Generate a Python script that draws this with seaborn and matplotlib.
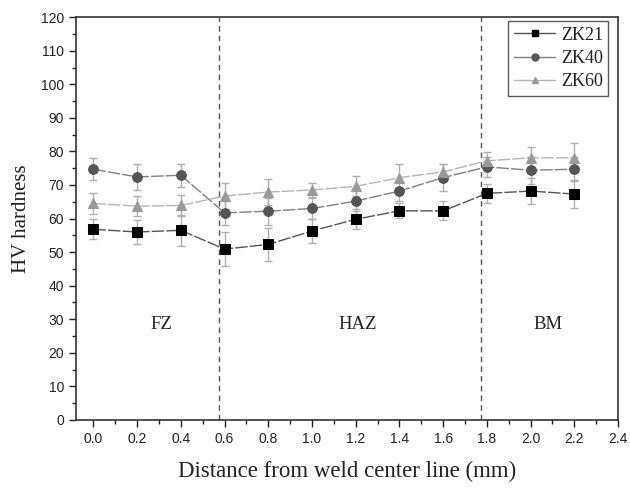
import matplotlib
matplotlib.use("Agg")
import matplotlib.pyplot as plt
import matplotlib.ticker as mticker
import pandas as pd
import seaborn as sns
from matplotlib.lines import Line2D

# distance from weld centre line (mm)
distance = [0.0, 0.2, 0.4, 0.6, 0.8, 1.0, 1.2, 1.4, 1.6, 1.8, 2.0, 2.2]

zk21 = [56.8, 56.0, 56.5, 50.9, 52.3, 56.3, 59.8, 62.3, 62.3, 67.5, 68.2, 67.3]
zk21_err = [3.0, 3.6, 4.6, 5.0, 4.8, 3.5, 3.0, 2.2, 2.8, 2.8, 4.0, 4.3]
zk40 = [74.7, 72.4, 72.9, 61.7, 62.2, 63.0, 65.2, 68.2, 72.2, 75.4, 74.4, 74.7]
zk40_err = [3.3, 4.0, 3.5, 3.5, 4.0, 3.0, 3.0, 3.0, 4.0, 3.0, 4.0, 3.5]
zk60 = [64.5, 63.7, 63.9, 66.7, 67.9, 68.5, 69.6, 72.2, 73.9, 77.2, 78.1, 78.1]
zk60_err = [3.0, 3.0, 3.0, 4.0, 4.0, 2.0, 3.0, 4.0, 2.5, 2.5, 3.3, 4.4]

alloys = ["ZK21", "ZK40", "ZK60"]
zone_names = ["FZ", "HAZ", "BM"]
zone_x = [0.31, 1.21, 2.08]
boundaries = [0.575, 1.775]

df = pd.concat([
    pd.DataFrame({"Distance": distance, "HV": zk21, "err": zk21_err, "Alloy": "ZK21"}),
    pd.DataFrame({"Distance": distance, "HV": zk40, "err": zk40_err, "Alloy": "ZK40"}),
    pd.DataFrame({"Distance": distance, "HV": zk60, "err": zk60_err, "Alloy": "ZK60"}),
])

marker_col = {"ZK21": "#000000", "ZK40": "#555555", "ZK60": "#9a9a9a"}
line_col = {"ZK21": "#555555", "ZK40": "#808080", "ZK60": "#b5b5b5"}
markers = {"ZK21": "s", "ZK40": "o", "ZK60": "^"}

sns.set_theme(style="ticks")
plt.rcParams["font.family"] = ["Liberation Sans", "DejaVu Sans"]
serif = ["Liberation Serif", "DejaVu Serif"]

fig = plt.figure(figsize=(6.3, 4.9), dpi=100)
ax = fig.add_axes([0.1206, 0.1429, 0.8604, 0.8221])

for alloy in alloys:
    sub = df[df["Alloy"] == alloy]
    sns.lineplot(data=sub, x="Distance", y="HV", color=line_col[alloy],
                 marker=markers[alloy], markersize=7, linewidth=1.0,
                 markerfacecolor=marker_col[alloy], markeredgecolor=marker_col[alloy],
                 dashes=(9, 1.5), ax=ax, zorder=3)
    ax.errorbar(sub["Distance"], sub["HV"], yerr=sub["err"], fmt="none",
                ecolor="#b0b0b0", elinewidth=1.0, capsize=3, capthick=1.0, zorder=2)

for b in boundaries:
    ax.axvline(b, color="#555555", linestyle=(0, (4, 3)), linewidth=1.0, zorder=1)

for name, zx in zip(zone_names, zone_x):
    ax.text(zx, 28.5, name, family=serif, fontsize=13.5, ha="center", va="center", color="#222222")

ax.set_xlim(-0.08, 2.4)
ax.set_ylim(0, 120)
ax.set_xticks([0.2 * i for i in range(13)])
ax.set_yticks(range(0, 121, 10))
ax.set_xticks([0.1 + 0.2 * i for i in range(12)], minor=True)
ax.set_yticks(range(5, 120, 10), minor=True)
ax.xaxis.set_major_formatter(mticker.FormatStrFormatter("%.1f"))
ax.tick_params(axis="both", which="major", direction="out", length=5, width=1,
               labelsize=10, colors="#222222")
ax.tick_params(axis="both", which="minor", direction="out", length=3, width=1, colors="#222222")
for s in ax.spines.values():
    s.set_color("#333333")
    s.set_linewidth(1.2)

ax.set_xlabel("Distance from weld center line (mm)", family=serif, fontsize=16.5,
              color="#222222", labelpad=11)
ax.set_ylabel("HV hardness", family=serif, fontsize=15, color="#222222", labelpad=7)

handles = [Line2D([0], [0], color=line_col[a], marker=markers[a], markersize=5,
                  markerfacecolor=marker_col[a], markeredgecolor=marker_col[a],
                  linewidth=1.0) for a in alloys]
leg = ax.legend(handles, alloys, loc="upper right", bbox_to_anchor=(0.982, 0.99),
                prop={"family": serif, "size": 13}, frameon=True, fancybox=False,
                edgecolor="#333333", handlelength=2.3, borderpad=0.3, labelspacing=0.35,
                handletextpad=0.3, borderaxespad=0)
leg.get_frame().set_linewidth(1.0)
for t in leg.get_texts():
    t.set_color("#222222")

fig.savefig("out.png", dpi=100)
